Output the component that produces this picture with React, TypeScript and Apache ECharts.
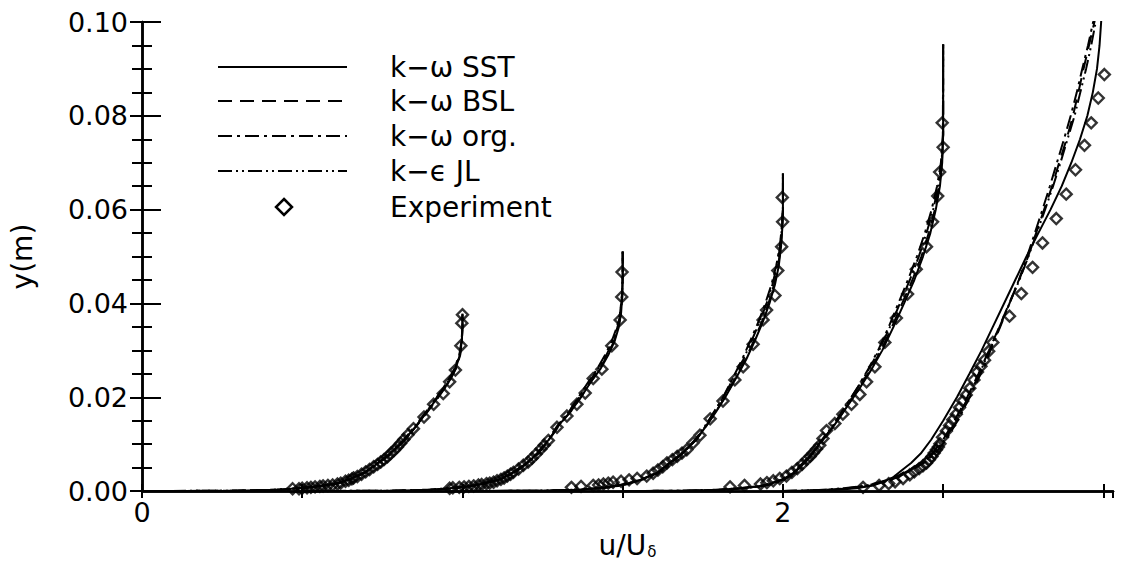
import React, { useEffect, useRef } from "react";
import * as echarts from "echarts";

const FONT = "DejaVu Sans";

// Station 1 (u/Uδ shifted by 0): wall distance y (m) and computed u/Uδ per model
const s1Y = [0, 0.0001, 0.0003, 0.0006, 0.001, 0.0015, 0.0025, 0.004, 0.006, 0.008, 0.011, 0.014, 0.017, 0.02, 0.023, 0.026, 0.029, 0.032, 0.035, 0.0378];
const s1Sst = [0, 0.30, 0.42, 0.49, 0.54, 0.60, 0.648, 0.695, 0.737, 0.775, 0.82, 0.857, 0.89, 0.923, 0.955, 0.978, 0.992, 0.998, 1.0, 1.0];
const s1Bsl = [0, 0.31, 0.43, 0.495, 0.545, 0.602, 0.65, 0.697, 0.738, 0.776, 0.821, 0.858, 0.892, 0.925, 0.956, 0.979, 0.993, 0.998, 1.0, 1.0];
const s1Org = [0, 0.32, 0.44, 0.5, 0.55, 0.605, 0.652, 0.698, 0.74, 0.778, 0.822, 0.857, 0.889, 0.92, 0.95, 0.974, 0.99, 0.997, 1.0, 1.0];
const s1Jl = [0, 0.28, 0.4, 0.48, 0.535, 0.595, 0.645, 0.693, 0.735, 0.772, 0.817, 0.854, 0.887, 0.92, 0.951, 0.976, 0.991, 0.998, 1.0, 1.0];

// Station 2 (shifted by 0.5)
const s2Y = [0, 0.0001, 0.0003, 0.0006, 0.001, 0.0015, 0.0025, 0.004, 0.006, 0.008, 0.011, 0.014, 0.017, 0.02, 0.023, 0.026, 0.029, 0.032, 0.035, 0.038, 0.042, 0.046, 0.0511];
const s2Sst = [0.5, 0.79, 0.9, 0.96, 1.01, 1.06, 1.115, 1.16, 1.2, 1.235, 1.27, 1.3, 1.338, 1.37, 1.398, 1.43, 1.455, 1.475, 1.488, 1.495, 1.499, 1.5, 1.5];
const s2Bsl = [0.5, 0.8, 0.91, 0.965, 1.015, 1.063, 1.117, 1.162, 1.202, 1.236, 1.271, 1.302, 1.338, 1.369, 1.397, 1.428, 1.453, 1.473, 1.487, 1.495, 1.499, 1.5, 1.5];
const s2Org = [0.5, 0.81, 0.92, 0.97, 1.02, 1.066, 1.12, 1.165, 1.203, 1.237, 1.27, 1.3, 1.333, 1.362, 1.39, 1.42, 1.445, 1.466, 1.482, 1.492, 1.498, 1.5, 1.5];
const s2Jl = [0.5, 0.77, 0.89, 0.955, 1.005, 1.056, 1.112, 1.158, 1.198, 1.232, 1.267, 1.297, 1.333, 1.364, 1.392, 1.423, 1.449, 1.47, 1.484, 1.493, 1.498, 1.5, 1.5];

// Station 3 (shifted by 1.0)
const s3Y = [0, 0.0001, 0.0003, 0.0006, 0.001, 0.0015, 0.0025, 0.004, 0.006, 0.008, 0.011, 0.014, 0.017, 0.02, 0.024, 0.028, 0.032, 0.036, 0.04, 0.044, 0.048, 0.052, 0.056, 0.06, 0.0677];
const s3Sst = [1.0, 1.25, 1.36, 1.42, 1.47, 1.51, 1.56, 1.61, 1.647, 1.685, 1.73, 1.762, 1.792, 1.82, 1.853, 1.885, 1.912, 1.937, 1.958, 1.975, 1.987, 1.994, 1.998, 2.0, 2.0];
const s3Bsl = [1.0, 1.26, 1.37, 1.425, 1.474, 1.513, 1.562, 1.612, 1.648, 1.686, 1.73, 1.762, 1.791, 1.819, 1.851, 1.882, 1.909, 1.934, 1.955, 1.972, 1.985, 1.993, 1.998, 2.0, 2.0];
const s3Org = [1.0, 1.27, 1.38, 1.43, 1.478, 1.516, 1.565, 1.614, 1.65, 1.687, 1.729, 1.76, 1.787, 1.813, 1.843, 1.872, 1.898, 1.923, 1.945, 1.964, 1.979, 1.99, 1.996, 2.0, 2.0];
const s3Jl = [1.0, 1.23, 1.35, 1.415, 1.466, 1.507, 1.558, 1.608, 1.645, 1.683, 1.727, 1.758, 1.786, 1.814, 1.845, 1.876, 1.902, 1.927, 1.949, 1.967, 1.981, 1.991, 1.997, 2.0, 2.0];

// Station 4 (shifted by 1.5)
const s4Y = [0, 0.0001, 0.0003, 0.0006, 0.001, 0.0015, 0.0025, 0.004, 0.006, 0.008, 0.011, 0.014, 0.018, 0.022, 0.026, 0.03, 0.035, 0.04, 0.045, 0.05, 0.055, 0.06, 0.065, 0.07, 0.076, 0.0952];
const s4Sst = [1.5, 1.7, 1.8, 1.87, 1.92, 1.96, 2.0, 2.035, 2.065, 2.09, 2.125, 2.16, 2.2, 2.24, 2.277, 2.31, 2.345, 2.378, 2.41, 2.437, 2.46, 2.477, 2.49, 2.497, 2.5, 2.5];
const s4Bsl = [1.5, 1.71, 1.81, 1.875, 1.925, 1.963, 2.003, 2.037, 2.067, 2.092, 2.126, 2.16, 2.199, 2.238, 2.274, 2.306, 2.34, 2.372, 2.404, 2.432, 2.455, 2.474, 2.488, 2.496, 2.5, 2.5];
const s4Org = [1.5, 1.72, 1.82, 1.88, 1.93, 1.967, 2.006, 2.04, 2.069, 2.093, 2.126, 2.158, 2.195, 2.232, 2.266, 2.297, 2.33, 2.36, 2.39, 2.418, 2.443, 2.464, 2.481, 2.493, 2.499, 2.5];
const s4Jl = [1.5, 1.68, 1.79, 1.862, 1.915, 1.955, 1.997, 2.032, 2.062, 2.088, 2.122, 2.156, 2.194, 2.233, 2.268, 2.3, 2.334, 2.365, 2.396, 2.424, 2.448, 2.469, 2.485, 2.495, 2.5, 2.5];

// Station 5 (shifted by 2.0)
const s5Y = [0, 0.0002, 0.0006, 0.0012, 0.002, 0.003, 0.0045, 0.006, 0.008, 0.011, 0.015, 0.02, 0.025, 0.03, 0.035, 0.04, 0.045, 0.05, 0.055, 0.06, 0.065, 0.07, 0.075, 0.08, 0.085, 0.09, 0.095, 0.1, 0.105];
const s5Sst = [2.0, 2.15, 2.23, 2.28, 2.315, 2.345, 2.372, 2.4, 2.43, 2.463, 2.5, 2.543, 2.582, 2.62, 2.655, 2.69, 2.725, 2.76, 2.797, 2.835, 2.87, 2.9, 2.927, 2.95, 2.967, 2.98, 2.988, 2.993, 2.996];
const s5Bsl = [2.0, 2.12, 2.2, 2.265, 2.31, 2.35, 2.393, 2.43, 2.465, 2.5, 2.535, 2.575, 2.61, 2.643, 2.675, 2.706, 2.737, 2.765, 2.79, 2.815, 2.84, 2.862, 2.885, 2.905, 2.922, 2.938, 2.955, 2.972, 2.985];
const s5Org = [2.0, 2.13, 2.21, 2.275, 2.32, 2.36, 2.402, 2.44, 2.475, 2.51, 2.545, 2.583, 2.617, 2.648, 2.678, 2.707, 2.736, 2.762, 2.786, 2.81, 2.833, 2.855, 2.877, 2.898, 2.917, 2.934, 2.952, 2.968, 2.982];
const s5Jl = [2.0, 2.1, 2.19, 2.26, 2.308, 2.352, 2.397, 2.435, 2.47, 2.505, 2.54, 2.578, 2.613, 2.645, 2.676, 2.707, 2.738, 2.766, 2.792, 2.818, 2.843, 2.866, 2.888, 2.91, 2.928, 2.946, 2.962, 2.976, 2.988];

// Measured profiles: [u/Uδ (shifted), y (m)]
const exp1 = [[0.47, 0.0005], [0.49, 0.0005], [0.5, 0.0006], [0.515, 0.0007], [0.527, 0.0008], [0.54, 0.0009], [0.555, 0.001], [0.565, 0.0011], [0.58, 0.0012], [0.595, 0.0013], [0.61, 0.0015], [0.62, 0.0017], [0.635, 0.0021], [0.645, 0.0023], [0.655, 0.0026], [0.66, 0.0028], [0.672, 0.0031], [0.685, 0.0036], [0.698, 0.0041], [0.71, 0.0046], [0.723, 0.0052], [0.735, 0.0057], [0.745, 0.0062], [0.755, 0.0067], [0.766, 0.0073], [0.776, 0.008], [0.787, 0.0087], [0.797, 0.0094], [0.807, 0.0102], [0.817, 0.011], [0.83, 0.012], [0.847, 0.0133], [0.88, 0.0158], [0.91, 0.0185], [0.94, 0.0208], [0.96, 0.0233], [0.978, 0.0258], [0.995, 0.031], [0.998, 0.0358], [1.0, 0.0376]];
const exp2 = [[0.96, 0.0006], [0.97, 0.0007], [0.99, 0.0008], [1.005, 0.0009], [1.02, 0.001], [1.035, 0.0011], [1.05, 0.0013], [1.06, 0.0014], [1.075, 0.0016], [1.085, 0.0017], [1.097, 0.0019], [1.108, 0.0022], [1.12, 0.0025], [1.13, 0.0028], [1.14, 0.0032], [1.15, 0.0036], [1.159, 0.004], [1.175, 0.0047], [1.19, 0.0055], [1.205, 0.0062], [1.217, 0.007], [1.23, 0.0079], [1.245, 0.009], [1.255, 0.0098], [1.268, 0.0108], [1.295, 0.0136], [1.326, 0.016], [1.357, 0.0185], [1.383, 0.0209], [1.408, 0.024], [1.435, 0.026], [1.466, 0.031], [1.492, 0.0365], [1.497, 0.0414], [1.498, 0.0467]];
const exp3 = [[1.34, 0.0008], [1.37, 0.001], [1.408, 0.0012], [1.425, 0.0013], [1.44, 0.0015], [1.455, 0.0017], [1.47, 0.0019], [1.495, 0.0021], [1.52, 0.0024], [1.545, 0.0027], [1.575, 0.0032], [1.595, 0.0038], [1.61, 0.0045], [1.625, 0.0052], [1.638, 0.006], [1.655, 0.0067], [1.67, 0.0074], [1.685, 0.0081], [1.7, 0.0088], [1.72, 0.0103], [1.741, 0.0119], [1.773, 0.0154], [1.813, 0.0192], [1.85, 0.0237], [1.876, 0.0265], [1.907, 0.0313], [1.938, 0.0365], [1.949, 0.0386], [1.975, 0.0417], [1.984, 0.047], [1.996, 0.0521], [1.999, 0.0574], [1.998, 0.0626]];
const exp4 = [[1.835, 0.0009], [1.88, 0.0012], [1.93, 0.0015], [1.95, 0.0018], [1.97, 0.0022], [1.99, 0.0027], [2.011, 0.0032], [2.028, 0.004], [2.045, 0.0048], [2.06, 0.0057], [2.074, 0.0067], [2.085, 0.0074], [2.095, 0.0082], [2.105, 0.009], [2.115, 0.0098], [2.125, 0.0112], [2.136, 0.0129], [2.162, 0.0144], [2.187, 0.0164], [2.214, 0.0185], [2.24, 0.0206], [2.261, 0.0233], [2.287, 0.0265], [2.318, 0.0317], [2.354, 0.0369], [2.389, 0.042], [2.416, 0.0473], [2.448, 0.0521], [2.467, 0.0574], [2.483, 0.0629], [2.489, 0.068], [2.5, 0.0733], [2.497, 0.0785]];
const exp5 = [[2.25, 0.0008], [2.3, 0.0012], [2.33, 0.0016], [2.35, 0.002], [2.375, 0.0027], [2.396, 0.0035], [2.41, 0.0041], [2.425, 0.0048], [2.437, 0.0054], [2.448, 0.006], [2.457, 0.0067], [2.465, 0.0074], [2.472, 0.0081], [2.479, 0.0088], [2.485, 0.0094], [2.49, 0.0101], [2.498, 0.0115], [2.51, 0.0128], [2.52, 0.014], [2.53, 0.0152], [2.541, 0.0164], [2.551, 0.0178], [2.561, 0.0192], [2.572, 0.0205], [2.583, 0.0219], [2.596, 0.0237], [2.607, 0.0254], [2.618, 0.0266], [2.629, 0.0279], [2.642, 0.0298], [2.655, 0.0317], [2.707, 0.0373], [2.744, 0.0421], [2.779, 0.0477], [2.81, 0.0529], [2.853, 0.0581], [2.884, 0.0633], [2.913, 0.0685], [2.941, 0.0737], [2.962, 0.0785], [2.984, 0.0838], [3.003, 0.0888]];

const xLabelsShown = [0, 2];
const yTicks = [0, 0.02, 0.04, 0.06, 0.08, 0.1];

const stations = [
  { y: s1Y, sst: s1Sst, bsl: s1Bsl, org: s1Org, jl: s1Jl },
  { y: s2Y, sst: s2Sst, bsl: s2Bsl, org: s2Org, jl: s2Jl },
  { y: s3Y, sst: s3Sst, bsl: s3Bsl, org: s3Org, jl: s3Jl },
  { y: s4Y, sst: s4Sst, bsl: s4Bsl, org: s4Org, jl: s4Jl },
  { y: s5Y, sst: s5Sst, bsl: s5Bsl, org: s5Org, jl: s5Jl },
];

const models: { key: "sst" | "bsl" | "org" | "jl"; name: string; dash: any }[] = [
  { key: "sst", name: "k\u2212\u03c9 SST", dash: "solid" },
  { key: "bsl", name: "k\u2212\u03c9 BSL", dash: [14, 8] },
  { key: "org", name: "k\u2212\u03c9 org.", dash: [14, 5, 3, 5] },
  { key: "jl", name: "k\u2212\u03f5 JL", dash: [14, 4, 2, 4, 2, 4] },
];
const expName = "Experiment";

export default function App() {
  const ref = useRef<HTMLDivElement>(null);

  useEffect(() => {
    if (!ref.current) return;
    const chart = echarts.init(ref.current, null, { renderer: "svg" });

    const lineSeries: any[] = [];
    models.forEach((m) => {
      stations.forEach((st) => {
        const xs = st[m.key];
        lineSeries.push({
          type: "line",
          name: m.name,
          data: st.y.map((yy, i) => [xs[i], yy]),
          symbol: "none",
          silent: true,
          clip: true,
          lineStyle: { color: "#000", width: 2, type: m.dash },
        });
      });
    });

    const scatter = {
      type: "scatter",
      name: expName,
      data: [...exp1, ...exp2, ...exp3, ...exp4, ...exp5],
      symbol: "diamond",
      symbolSize: 11,
      silent: true,
      itemStyle: { color: "rgba(0,0,0,0)", borderColor: "#000", borderWidth: 2.4 },
    };

    // Key in the upper left: line samples, the open diamond and their labels
    const legendRows = [67, 101, 136, 171, 207];
    const legendGraphics: any[] = [];
    models.forEach((m, i) => {
      legendGraphics.push({
        type: "line",
        shape: { x1: 218, y1: legendRows[i], x2: 347, y2: legendRows[i] },
        style: { stroke: "#000", lineWidth: 2, lineDash: m.dash === "solid" ? null : m.dash },
      });
    });
    legendGraphics.push({
      type: "polygon",
      shape: { points: [[284, 199], [292, 207], [284, 215], [276, 207]] },
      style: { fill: "none", stroke: "#000", lineWidth: 2.5 },
    });
    [...models.map((m) => m.name), expName].forEach((t, i) => {
      legendGraphics.push({
        type: "text",
        x: 390,
        y: legendRows[i],
        style: { text: t, fontFamily: FONT, fontSize: 28, fill: "#000", verticalAlign: "middle", align: "left" },
      });
    });

    const axisLine = { show: true, lineStyle: { color: "#000", width: 2.5 } };

    chart.setOption({
      animation: false,
      backgroundColor: "#fff",
      textStyle: { fontFamily: FONT, color: "#000" },
      grid: { left: 141, right: 12, top: 22, bottom: 62, containLabel: false },
      xAxis: [
        {
          type: "value",
          position: "bottom",
          min: 0,
          max: 3.03,
          interval: 0.5,
          name: "{a|u/U}{b|\u03b4}",
          nameLocation: "middle",
          nameGap: 28,
          nameTextStyle: {
            rich: {
              a: { fontFamily: FONT, fontSize: 28, color: "#000", lineHeight: 32, verticalAlign: "bottom" },
              b: { fontFamily: FONT, fontSize: 15, color: "#000", lineHeight: 16, verticalAlign: "bottom", padding: [0, 0, 0, 1] },
            },
          },
          axisLine,
          axisTick: { show: true, inside: true, length: 7, lineStyle: { color: "#000", width: 2 } },
          axisLabel: {
            show: true,
            margin: 8,
            fontFamily: FONT,
            fontSize: 27,
            color: "#000",
            showMaxLabel: false,
            formatter: (v: number) => (xLabelsShown.some((s) => Math.abs(s - v) < 1e-9) ? String(v) : ""),
          },
          splitLine: { show: false },
        },
        {
          type: "value",
          position: "top",
          min: 0,
          max: 3.03,
          interval: 0.5,
          axisLine,
          axisTick: { show: true, inside: true, length: 7, lineStyle: { color: "#000", width: 2 } },
          axisLabel: { show: false },
          splitLine: { show: false },
        },
      ],
      yAxis: [
        {
          type: "value",
          position: "left",
          min: 0,
          max: 0.1,
          interval: 0.02,
          name: "y(m)",
          nameLocation: "middle",
          nameGap: 106,
          nameRotate: 90,
          nameTextStyle: { fontFamily: FONT, fontSize: 28, color: "#000" },
          axisLine,
          axisTick: { show: true, inside: true, length: 19, lineStyle: { color: "#000", width: 2 } },
          minorTick: { show: true, splitNumber: 4, length: 10, lineStyle: { color: "#000", width: 2 } },
          axisLabel: {
            margin: 14,
            fontFamily: FONT,
            fontSize: 27,
            color: "#000",
            formatter: (v: number) => {
              const t = yTicks.find((s) => Math.abs(s - v) < 1e-9);
              return t === undefined ? "" : t.toFixed(2);
            },
          },
          splitLine: { show: false },
          minorSplitLine: { show: false },
        },
        {
          type: "value",
          position: "right",
          min: 0,
          max: 0.1,
          interval: 0.02,
          axisLine,
          axisTick: { show: true, inside: true, length: 12, lineStyle: { color: "#000", width: 2 } },
          minorTick: { show: true, splitNumber: 4, length: 10, lineStyle: { color: "#000", width: 2 } },
          axisLabel: { show: false },
          splitLine: { show: false },
        },
      ],
      graphic: legendGraphics,
      series: [...lineSeries, scatter],
    });

    return () => chart.dispose();
  }, []);

  return (
    <div
      ref={ref}
      style={{ position: "absolute", left: 0, top: 0, width: 1125, height: 564, background: "#fff" }}
    />
  );
}
